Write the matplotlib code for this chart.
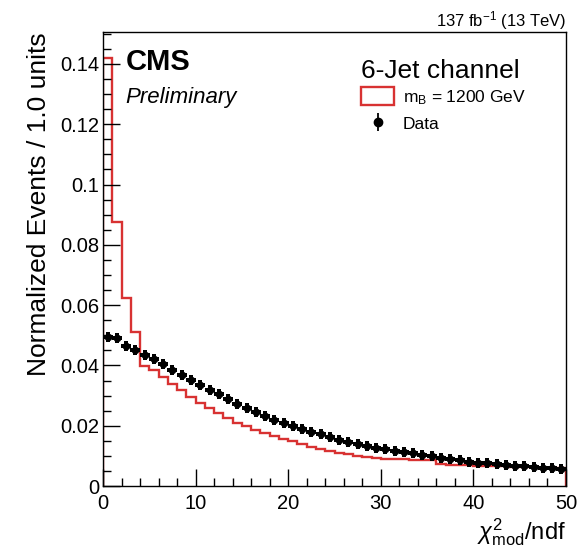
import numpy as np
import matplotlib
matplotlib.use("Agg")
import matplotlib.pyplot as plt
from matplotlib.patches import Patch
from matplotlib.lines import Line2D
from matplotlib.ticker import MultipleLocator

plt.rcParams['font.family'] = ['Liberation Sans', 'DejaVu Sans']
plt.rcParams['mathtext.fontset'] = 'custom'
plt.rcParams['mathtext.rm'] = 'Liberation Sans'
plt.rcParams['mathtext.it'] = 'Liberation Sans:italic'
plt.rcParams['mathtext.bf'] = 'Liberation Sans:bold'

# ---- data ----
bin_edges = np.arange(0, 51, 1.0)
signal_mB1200 = [0.142, 0.0877, 0.0623, 0.0512, 0.0398, 0.0385, 0.0363, 0.0338, 0.0318, 0.0296,
                 0.0275, 0.0258, 0.0242, 0.0226, 0.0210, 0.0198, 0.0186, 0.0175, 0.0165, 0.0156,
                 0.0148, 0.0140, 0.0131, 0.0123, 0.0116, 0.0110, 0.0105, 0.0100, 0.0096, 0.0093,
                 0.0091, 0.0089, 0.0088, 0.0087, 0.0086, 0.0085, 0.0072, 0.0071, 0.0070, 0.0069,
                 0.0068, 0.0067, 0.0066, 0.0065, 0.0064, 0.0063, 0.0062, 0.0061, 0.0060, 0.0059]
data_values = [0.0493, 0.0492, 0.0466, 0.0451, 0.0435, 0.0420, 0.0404, 0.0386, 0.0369, 0.0353,
               0.0336, 0.0319, 0.0304, 0.0290, 0.0273, 0.0259, 0.0246, 0.0233, 0.0220, 0.0208,
               0.0198, 0.0189, 0.0180, 0.0171, 0.0162, 0.0154, 0.0146, 0.0139, 0.0133, 0.0127,
               0.0122, 0.0117, 0.0112, 0.0108, 0.0104, 0.0099, 0.0094, 0.0089, 0.0085, 0.0081,
               0.0078, 0.0075, 0.0072, 0.0069, 0.0067, 0.0065, 0.0063, 0.0061, 0.0060, 0.0058]
x_ticks = [0, 10, 20, 30, 40, 50]
y_ticks = [0, 0.02, 0.04, 0.06, 0.08, 0.1, 0.12, 0.14]
y_tick_labels = ['0', '0.02', '0.04', '0.06', '0.08', '0.1', '0.12', '0.14']

centers = 0.5 * (bin_edges[:-1] + bin_edges[1:])

fig = plt.figure(figsize=(5.79, 5.48), dpi=100)
ax = fig.add_axes([0.178, 0.1131, 0.7995, 0.8285])

red = '#d83232'
ax.stairs(signal_mB1200, bin_edges, color=red, lw=1.7)
ax.plot(centers, data_values, linestyle='none', marker='o', color='black',
        markersize=5.5, markeredgewidth=0)
ax.plot(centers, data_values, linestyle='none', marker='P', color='black',
        markersize=6.8, markeredgewidth=0)

ax.set_xlim(0, 50)
ax.set_ylim(0, 0.1506)
ax.set_xticks(x_ticks)
ax.set_xticklabels([str(v) for v in x_ticks])
ax.set_yticks(y_ticks)
ax.set_yticklabels(y_tick_labels)
ax.xaxis.set_minor_locator(MultipleLocator(2))
ax.yaxis.set_minor_locator(MultipleLocator(0.005))
ax.tick_params(which='both', direction='in', labelsize=14.5, width=1.0)
ax.tick_params(which='major', length=12)
ax.tick_params(which='minor', length=6)
ax.tick_params(axis='x', pad=6)
ax.tick_params(axis='y', pad=3)
for s in ax.spines.values():
    s.set_linewidth(1.0)

ax.set_ylabel('Normalized Events / 1.0 units', fontsize=19, loc='top', labelpad=6)
ax.set_xlabel(r'$\chi^{2}_{\mathrm{mod}}$/ndf', fontsize=17, loc='right', labelpad=2)

fig.text(0.2165, 0.886, 'CMS', fontsize=21, fontweight='bold', va='center', ha='left')
fig.text(0.2165, 0.822, 'Preliminary', fontsize=16, style='italic', va='center', ha='left')
fig.text(0.978, 0.963, r'137 fb$^{-1}$ (13 TeV)', fontsize=12, va='center', ha='right')

data_handle = (Line2D([], [], linestyle='none', marker='|', color='black',
                      markersize=13, markeredgewidth=1.3),
               Line2D([], [], linestyle='none', marker='o', color='black', markersize=6))
handles = [Patch(facecolor='white', edgecolor=red, linewidth=1.7), data_handle]
labels = [r'm$_{\mathrm{B}}$ = 1200 GeV', 'Data']
leg = ax.legend(handles, labels, title='6-Jet channel', loc='upper left',
                bbox_to_anchor=(0.558, 0.94), frameon=False, fontsize=12.5,
                title_fontsize=19, handlelength=1.9, handleheight=1.15,
                handletextpad=0.5, labelspacing=0.45, borderaxespad=0, borderpad=0)
leg._legend_box.align = 'left'
leg._legend_box.sep = 3

fig.savefig('out.png', dpi=100)
